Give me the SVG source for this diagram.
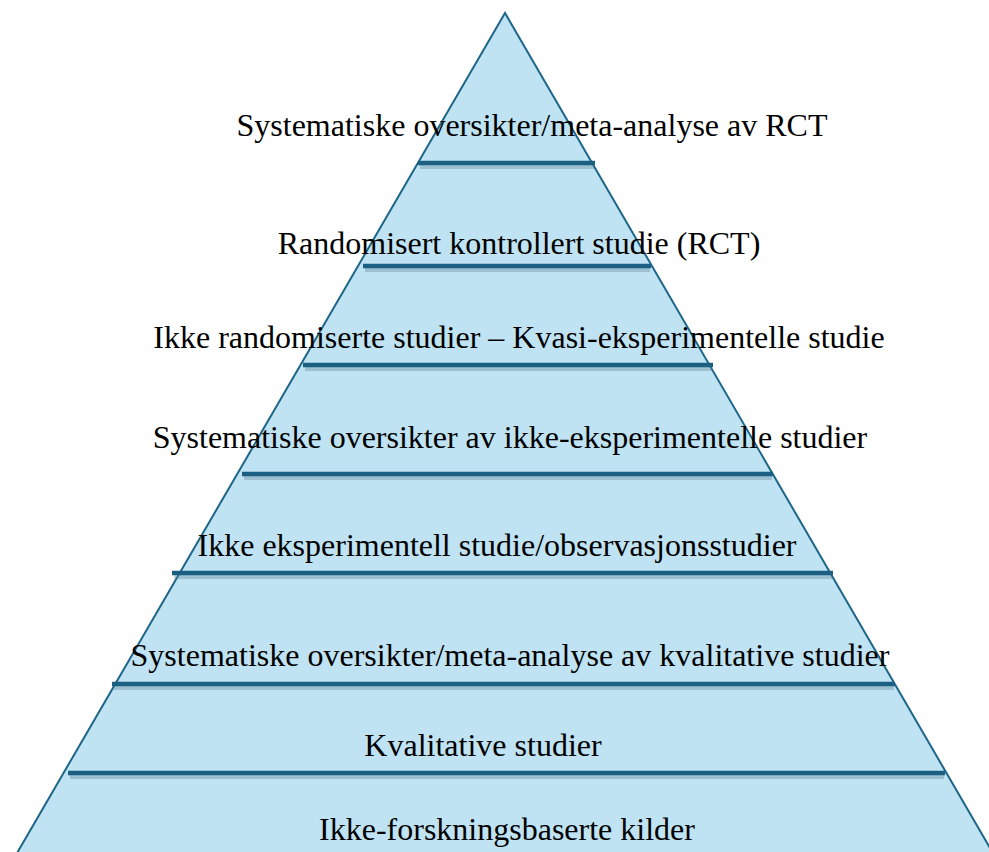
<svg xmlns="http://www.w3.org/2000/svg" width="989" height="852" viewBox="0 0 989 852">
<style>
.pyr{fill:#bfe3f3;stroke:#1d6689;stroke-width:2}
.bar{stroke:#1b5f82;stroke-width:4.5;fill:none}
.sh{stroke:#5f7f90;stroke-width:4;opacity:0.35;fill:none}
text{font-family:"Liberation Serif","Times New Roman",serif;font-size:32px;fill:#000;text-anchor:middle}
</style>
<rect width="989" height="852" fill="#fff"/>
<g id="pyramid">
<polygon class="pyr" points="505,13 13,860 997,860"/>
</g>
<g id="connectors">
<line class="sh" x1="420" y1="167" x2="594" y2="167"/>
<line class="bar" x1="418" y1="163" x2="595" y2="163"/>
<line class="sh" x1="365" y1="270" x2="650" y2="270"/>
<line class="bar" x1="363" y1="266" x2="651" y2="266"/>
<line class="sh" x1="305" y1="369" x2="712" y2="369"/>
<line class="bar" x1="303" y1="365" x2="713" y2="365"/>
<line class="sh" x1="244" y1="478" x2="772" y2="478"/>
<line class="bar" x1="242" y1="474" x2="773" y2="474"/>
<line class="sh" x1="174" y1="577" x2="832" y2="577"/>
<line class="bar" x1="172" y1="573" x2="833" y2="573"/>
<line class="sh" x1="114" y1="688" x2="894" y2="688"/>
<line class="bar" x1="112" y1="684" x2="895" y2="684"/>
<line class="sh" x1="70" y1="777" x2="944" y2="777"/>
<line class="bar" x1="68" y1="773" x2="945" y2="773"/>
</g>
<g id="n1"><text x="532" y="136">Systematiske oversikter/meta-analyse av RCT</text></g>
<g id="n2"><text x="519" y="254">Randomisert kontrollert studie (RCT)</text></g>
<g id="n3"><text x="519" y="348">Ikke randomiserte studier – Kvasi-eksperimentelle studie</text></g>
<g id="n4"><text x="510" y="448">Systematiske oversikter av ikke-eksperimentelle studier</text></g>
<g id="n5"><text x="497" y="556">Ikke eksperimentell studie/observasjonsstudier</text></g>
<g id="n6"><text x="510" y="666">Systematiske oversikter/meta-analyse av kvalitative studier</text></g>
<g id="n7"><text x="483" y="756">Kvalitative studier</text></g>
<g id="n8"><text x="507" y="840">Ikke-forskningsbaserte kilder</text></g>
</svg>
